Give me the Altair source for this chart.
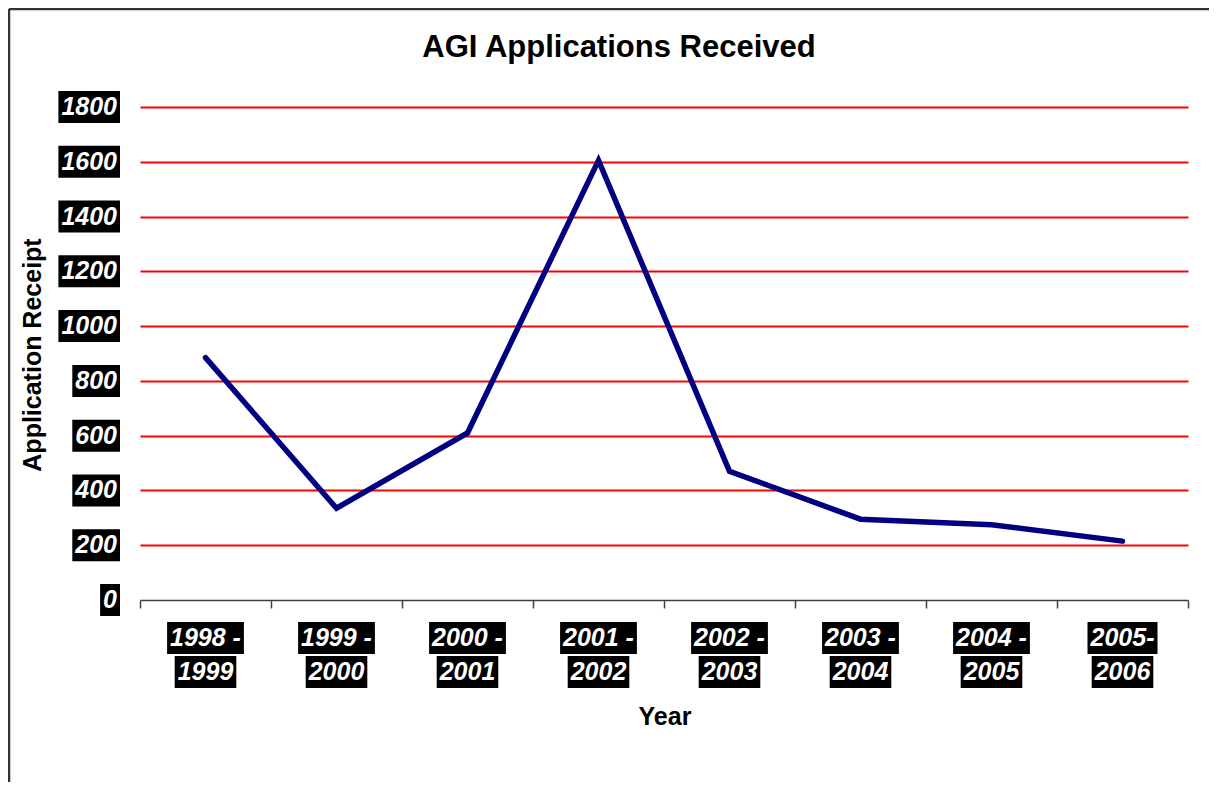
import altair as alt
import pandas as pd

# ---------------- data ----------------
years = ["1998 - 1999", "1999 - 2000", "2000 - 2001", "2001 - 2002",
         "2002 - 2003", "2003 - 2004", "2004 - 2005", "2005-2006"]
applications = [885, 335, 610, 1605, 470, 295, 275, 215]
y_ticks = [0, 200, 400, 600, 800, 1000, 1200, 1400, 1600, 1800]
y_tick_labels = ["0", "200", "400", "600", "800", "1000", "1200", "1400", "1600", "1800"]
title_text = "AGI Applications Received"
y_title = "Application Receipt"
x_title = "Year"

# ---------------- layout helpers ----------------
FONT = "Liberation Sans"
FS = 25
W, H = 1048, 493
CHAR = {" ": 0.278, "-": 0.333}


def box_w(s):
    return sum(CHAR.get(c, 0.556) for c in s) * FS + 6


def right_box(s):
    w = box_w(s)
    return f"M{-w:.1f},-16H0V16H{-w:.1f}Z"


def center_box(s):
    w = box_w(s) / 2
    return f"M{-w:.1f},-16H{w:.1f}V16H{-w:.1f}Z"


def split_label(lbl):
    i = lbl.index("-")
    return lbl[: i + 1], lbl[i + 1:].strip()


df = pd.DataFrame({"Year": years, "Applications": applications})

ydf = pd.DataFrame({"tick": y_ticks, "label": y_tick_labels})
ydf["path"] = [right_box(s) for s in y_tick_labels]

l1 = [split_label(s)[0] for s in years]
l2 = [split_label(s)[1] for s in years]
xdf = pd.DataFrame({"Year": years, "line1": l1, "line2": l2,
                    "p1": [center_box(s) for s in l1],
                    "p2": [center_box(s) for s in l2]})

one = pd.DataFrame({"k": [0]})

xscale = alt.Scale(domain=years, paddingInner=0, paddingOuter=0)
yscale = alt.Scale(domain=[0, 1800], nice=False)

x_axis = alt.Axis(labels=False, title=None, tickBand="extent",
                  domainColor="#404040", domainWidth=1.5,
                  tickColor="#404040", tickWidth=1.5, tickSize=8,
                  grid=False)
y_axis = alt.Axis(values=y_ticks[1:], grid=True, gridColor="#ff0000",
                  gridWidth=2, labels=False, ticks=False, domain=False,
                  title=None)


def X(field):
    return alt.X(field, sort=years, scale=xscale, axis=x_axis)


def Y(field):
    return alt.Y(field, scale=yscale, axis=y_axis)


# ---------------- layers ----------------
line = alt.Chart(df).mark_line(
    color="#000080", strokeWidth=5.5, strokeCap="round", strokeJoin="miter"
).encode(
    x=X("Year:N"),
    y=Y("Applications:Q"),
)

y_boxes = alt.Chart(ydf).mark_point(filled=True, color="black", opacity=1,
                                    strokeWidth=0).encode(
    x=alt.value(-20),
    y=Y("tick:Q"),
    shape=alt.Shape("path:N", scale=None, legend=None),
    size=alt.value(4),
)
y_text = alt.Chart(ydf).mark_text(
    font=FONT, fontSize=FS, fontWeight="bold", fontStyle="italic",
    color="white", align="right", baseline="middle"
).encode(
    x=alt.value(-23),
    y=Y("tick:Q"),
    text="label:N",
)

x_box1 = alt.Chart(xdf).mark_point(filled=True, color="black", opacity=1,
                                   strokeWidth=0).encode(
    x=X("Year:N"),
    y=alt.value(531),
    shape=alt.Shape("p1:N", scale=None, legend=None),
    size=alt.value(4),
)
x_box2 = alt.Chart(xdf).mark_point(filled=True, color="black", opacity=1,
                                   strokeWidth=0).encode(
    x=X("Year:N"),
    y=alt.value(565),
    shape=alt.Shape("p2:N", scale=None, legend=None),
    size=alt.value(4),
)
x_text1 = alt.Chart(xdf).mark_text(
    font=FONT, fontSize=FS, fontWeight="bold", fontStyle="italic",
    color="white", align="center", baseline="middle"
).encode(
    x=X("Year:N"),
    y=alt.value(531),
    text="line1:N",
)
x_text2 = alt.Chart(xdf).mark_text(
    font=FONT, fontSize=FS, fontWeight="bold", fontStyle="italic",
    color="white", align="center", baseline="middle"
).encode(
    x=X("Year:N"),
    y=alt.value(565),
    text="line2:N",
)

title = alt.Chart(one).mark_text(
    font=FONT, fontSize=31, fontWeight="bold", color="black",
    align="center", baseline="middle", text=title_text
).encode(x=alt.value(479), y=alt.value(-59))

ytitle = alt.Chart(one).mark_text(
    font=FONT, fontSize=25, fontWeight="bold", color="black",
    align="center", baseline="middle", angle=270, text=y_title
).encode(x=alt.value(-107), y=alt.value(248))

xtitle = alt.Chart(one).mark_text(
    font=FONT, fontSize=25, fontWeight="bold", color="black",
    align="center", baseline="middle", text=x_title
).encode(x=alt.value(525), y=alt.value(610))

frame_left = alt.Chart(one).mark_rule(color="#333333", strokeWidth=2.5).encode(
    x=alt.value(-131), y=alt.value(-98), y2=alt.value(H + 182)
)
frame_top = alt.Chart(one).mark_rule(color="#333333", strokeWidth=2.5).encode(
    x=alt.value(-131), x2=alt.value(W + 21), y=alt.value(-98)
)

chart = alt.layer(
    line, frame_left, frame_top, y_boxes, y_text,
    x_box1, x_box2, x_text1, x_text2, title, ytitle, xtitle
).properties(
    width=W, height=H, autosize="none",
    padding={"left": 132, "top": 99, "right": 21, "bottom": 182},
    background="white",
).configure_view(stroke=None)

chart.save("out.html", embed_options={"renderer": "svg", "actions": False})
